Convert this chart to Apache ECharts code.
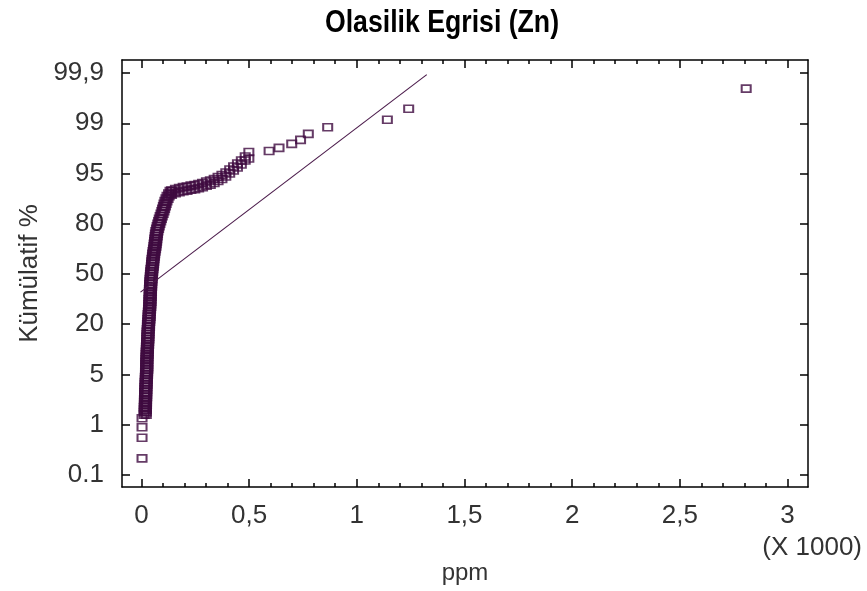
<!DOCTYPE html>
<html><head><meta charset="utf-8">
<script src="https://cdn.jsdelivr.net/npm/echarts@6/dist/echarts.min.js"></script>
<style>html,body{margin:0;padding:0;background:#fff}#c{width:867px;height:591px}</style>
</head><body><div id="c"></div>
<script>
const titleText = 'Olasilik Egrisi (Zn)';
const xAxisName = 'ppm';
const yAxisName = 'Kümülatif %';
const xScaleNote = '(X 1000)';
const xTickValues = [0, 500, 1000, 1500, 2000, 2500, 3000];
const xTickLabels = ['0', '0,5', '1', '1,5', '2', '2,5', '3'];
const yTickValues = [0, 1, 2, 3, 4, 5, 6, 7, 8];
const yTickLabels = ['0.1', '1', '5', '20', '50', '80', '95', '99', '99,9'];

// lowest isolated points
const lowPpm = [3, 3, 3, 3];
const lowIndex = [0.33, 0.74, 0.95, 1.13];

// dense column of points (ppm, probability-axis position in label index units)
const bandPpm = [
  13, 23, 13, 23, 13, 23, 13, 23, 14, 24, 14, 24, 14, 24, 15, 25, 15, 25, 15, 25,
  16, 26, 16, 26, 17, 27, 17, 27, 18, 28, 18, 28, 19, 29, 19, 29, 20, 30, 20, 30,
  20, 30, 20, 30, 21, 31, 21, 31, 22, 32, 22, 32, 23, 33, 23, 33, 24, 34, 24, 34,
  25, 35, 25, 35, 26, 36, 26, 36, 27, 37, 28, 38, 28, 38, 29, 39, 30, 40, 31, 41,
  31, 41, 32, 42, 33, 43, 34, 44, 34, 44, 35, 45, 35, 45, 36, 46, 36, 46, 37, 47,
  37, 47, 38, 48, 38, 48, 39, 49, 40, 50, 41, 51, 42, 52, 43, 53, 44, 54, 46, 56,
  47, 57, 48, 58, 49, 59, 51, 61, 52, 62, 54, 64, 56, 66, 58, 68, 59, 69, 61, 71,
  62, 72, 64, 74, 65, 75, 67, 77, 70, 80, 73, 83, 76, 86, 80, 90, 83, 93, 87, 97,
  91, 101, 95, 105, 98, 108, 102, 112, 105, 115, 109, 119, 114, 124, 119, 129, 126, 136, 133, 143
];
const bandIndex = [
  1.20, 1.20, 1.25, 1.25, 1.30, 1.30, 1.35, 1.35, 1.40, 1.40, 1.45, 1.45, 1.50, 1.50, 1.55, 1.55, 1.60, 1.60, 1.65, 1.65,
  1.70, 1.70, 1.75, 1.75, 1.80, 1.80, 1.85, 1.85, 1.90, 1.90, 1.95, 1.95, 2.00, 2.00, 2.05, 2.05, 2.10, 2.10, 2.15, 2.15,
  2.20, 2.20, 2.25, 2.25, 2.30, 2.30, 2.35, 2.35, 2.40, 2.40, 2.45, 2.45, 2.50, 2.50, 2.55, 2.55, 2.60, 2.60, 2.65, 2.65,
  2.70, 2.70, 2.75, 2.75, 2.80, 2.80, 2.85, 2.85, 2.90, 2.90, 2.95, 2.95, 3.00, 3.00, 3.05, 3.05, 3.10, 3.10, 3.15, 3.15,
  3.20, 3.20, 3.25, 3.25, 3.30, 3.30, 3.35, 3.35, 3.40, 3.40, 3.45, 3.45, 3.50, 3.50, 3.55, 3.55, 3.60, 3.60, 3.65, 3.65,
  3.70, 3.70, 3.75, 3.75, 3.80, 3.80, 3.85, 3.85, 3.90, 3.90, 3.95, 3.95, 4.00, 4.00, 4.05, 4.05, 4.10, 4.10, 4.15, 4.15,
  4.20, 4.20, 4.25, 4.25, 4.30, 4.30, 4.35, 4.35, 4.40, 4.40, 4.45, 4.45, 4.50, 4.50, 4.55, 4.55, 4.60, 4.60, 4.65, 4.65,
  4.70, 4.70, 4.75, 4.75, 4.80, 4.80, 4.85, 4.85, 4.90, 4.90, 4.95, 4.95, 5.00, 5.00, 5.05, 5.05, 5.10, 5.10, 5.15, 5.15,
  5.20, 5.20, 5.25, 5.25, 5.30, 5.30, 5.35, 5.35, 5.40, 5.40, 5.45, 5.45, 5.50, 5.50, 5.55, 5.55, 5.60, 5.60, 5.65, 5.65
];

// bend of the curve towards the upper tail
const shelfPpm = [
  140, 140, 158, 158, 176, 176, 194, 194, 212, 212, 230, 230, 248, 248, 266, 266, 284, 284, 302, 302,
  320, 320, 338, 338, 356, 356, 374, 374, 392, 392, 410, 410, 428, 428, 446, 446, 464, 464, 482, 482
];
const shelfIndex = [
  5.58, 5.66, 5.61, 5.69, 5.63, 5.71, 5.65, 5.73, 5.66, 5.74, 5.68, 5.76, 5.69, 5.77, 5.71, 5.79, 5.73, 5.81, 5.76, 5.84,
  5.78, 5.86, 5.81, 5.89, 5.85, 5.93, 5.89, 5.97, 5.94, 6.02, 6.00, 6.08, 6.06, 6.14, 6.12, 6.20, 6.18, 6.26, 6.26, 6.34
];

// sparse upper tail
const tailPpm = [499, 499, 593, 639, 698, 739, 775, 865, 1142, 1241, 2808];
const tailIndex = [6.43, 6.30, 6.45, 6.51, 6.59, 6.67, 6.79, 6.92, 7.07, 7.29, 7.69];

// fitted reference line end points
const fitPpm = [-4, 1325];
const fitIndex = [3.64, 7.97];

const xMinorTicks = [];
for (let v = 0; v <= 3000; v += 100) if (v % 500 !== 0) xMinorTicks.push(v);

const purple = '#3f0a40';
const fontFam = '"Liberation Sans", Arial, sans-serif';
const textCol = '#333333';
const X_MIN = -90, X_MAX = 3095, Y_MIN = -0.24, Y_MAX = 8.26;

const allPpm = lowPpm.concat(bandPpm, shelfPpm, tailPpm);
const allIndex = lowIndex.concat(bandIndex, shelfIndex, tailIndex);
const scatterData = allPpm.map((v, i) => [v, allIndex[i]]);
const lineData = fitPpm.map((v, i) => [v, fitIndex[i]]);

function xAxisDef(pos, major, withLabels) {
  return {
    type: 'value', position: pos, min: X_MIN, max: X_MAX,
    axisLine: { show: major, onZero: false, lineStyle: { color: '#000', width: 1.5 } },
    axisTick: { show: true, inside: true, length: major ? 8 : 4, customValues: major ? xTickValues : xMinorTicks,
      lineStyle: { color: '#000', width: 1.5 } },
    axisLabel: withLabels ? { show: true, customValues: xTickValues, margin: 16,
      formatter: v => xTickLabels[xTickValues.indexOf(v)], color: textCol, fontSize: 26, fontFamily: fontFam } : { show: false },
    splitLine: { show: false },
    name: withLabels ? xAxisName : '', nameLocation: 'middle', nameGap: 74,
    nameTextStyle: { color: textCol, fontSize: 24, fontFamily: fontFam }
  };
}
function yAxisDef(pos, withLabels) {
  return {
    type: 'value', position: pos, min: Y_MIN, max: Y_MAX,
    axisLine: { show: true, onZero: false, lineStyle: { color: '#000', width: 1.5 } },
    axisTick: { show: true, inside: true, length: 8, customValues: yTickValues, lineStyle: { color: '#000', width: 1.5 } },
    axisLabel: withLabels ? { show: true, customValues: yTickValues, margin: 18,
      formatter: v => yTickLabels[yTickValues.indexOf(v)], color: textCol, fontSize: 26, fontFamily: fontFam } : { show: false },
    splitLine: { show: false },
    name: withLabels ? yAxisName : '', nameLocation: 'middle', nameGap: 71,
    nameTextStyle: { color: textCol, fontSize: 26, fontFamily: fontFam }
  };
}

const chart = echarts.init(document.getElementById('c'), null, { renderer: 'canvas' });
chart.setOption({
  animation: false,
  backgroundColor: '#fff',
  grid: { left: 122, right: 59, top: 60, bottom: 104, containLabel: false },
  xAxis: [xAxisDef('bottom', true, true), xAxisDef('bottom', false, false), xAxisDef('top', true, false), xAxisDef('top', false, false)],
  yAxis: [yAxisDef('left', true), yAxisDef('right', false)],
  graphic: [
    { type: 'text', x: 442, y: 23, scaleX: 0.86, z: 10,
      style: { text: titleText, x: 0, y: 0, align: 'center', verticalAlign: 'middle', fill: '#000',
        font: 'bold 31px ' + fontFam } },
    { type: 'text', x: 862, y: 548,
      style: { text: xScaleNote, x: 0, y: 0, align: 'right', verticalAlign: 'middle', fill: textCol, font: '26px ' + fontFam } }
  ],
  series: [
    { type: 'line', data: lineData, xAxisIndex: 0, yAxisIndex: 0, showSymbol: false, silent: true,
      lineStyle: { color: '#4a1a4a', width: 1.1 } },
    { type: 'scatter', data: scatterData, xAxisIndex: 0, yAxisIndex: 0, symbol: 'rect', symbolSize: [9, 7], silent: true,
      itemStyle: { color: 'rgba(0,0,0,0)', borderColor: purple, borderWidth: 1.8 } }
  ]
});
</script></body></html>
